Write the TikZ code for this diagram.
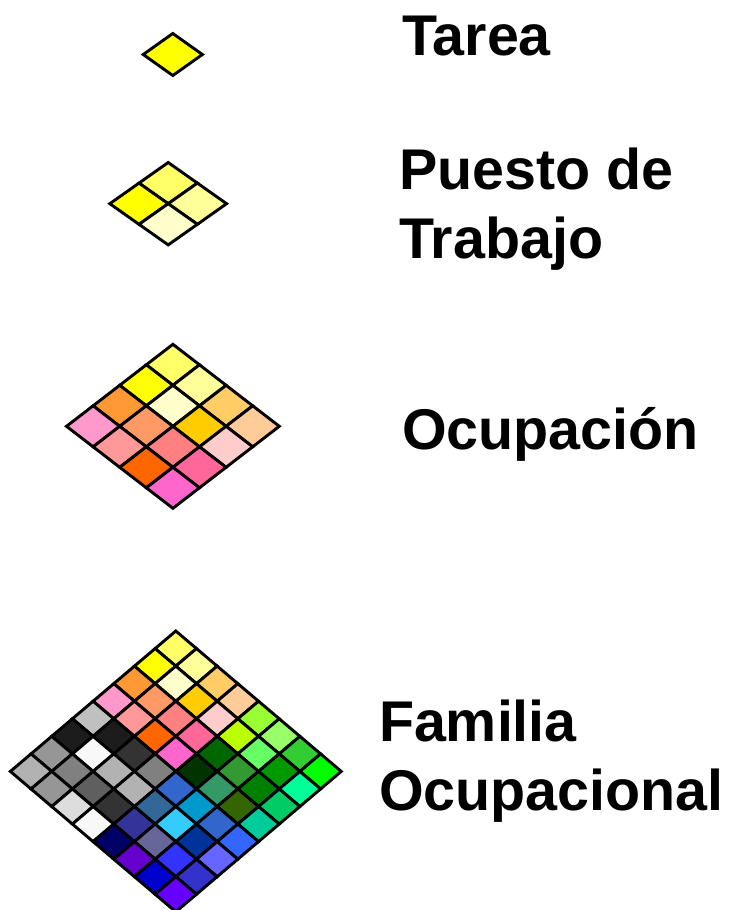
\documentclass[tikz,border=0pt]{standalone}
\usepackage{fontspec}
\setmainfont{Liberation Sans}
\tikzset{
  cellbox/.style={draw=black,line width=2.9pt,line join=miter,miter limit=3},
  lab/.style={anchor=base west,inner sep=0pt,outer sep=0pt,font=\bfseries\fontsize{57.4}{60}\selectfont,text=black}
}
\newcommand{\dgrid}[6]{%
  % top x, top y, half width, half height, n, colours
  \foreach \cc [count=\kk from 0] in {#6}{%
    \pgfmathtruncatemacro{\ii}{mod(\kk,#5)}%
    \pgfmathtruncatemacro{\jj}{int(\kk/#5)}%
    \definecolor{cellc}{HTML}{\cc}%
    \path[cellbox,fill=cellc]
      ({#1+(\ii-\jj)*#3},{#2+(\ii+\jj)*#4}) --
      ({#1+(\ii-\jj+1)*#3},{#2+(\ii+\jj+1)*#4}) --
      ({#1+(\ii-\jj)*#3},{#2+(\ii+\jj+2)*#4}) --
      ({#1+(\ii-\jj-1)*#3},{#2+(\ii+\jj+1)*#4}) -- cycle;
  }%
}
\begin{document}
\begin{tikzpicture}[x=1pt,y=-1pt]
\useasboundingbox (0,0) rectangle (729,910);
\dgrid{172.8}{33.5}{29.6}{21}{1}{FFFF00}
\dgrid{168.2}{162.5}{29.2}{20.6}{2}{FFFF66,FFFF99,FFFF00,FFFFCC}
\dgrid{172.9}{344.3}{26.6}{20.5}{4}{
FFFF66,FFFF99,FFCC66,FFCC99,
FFFF00,FFFFCC,FFCC00,FFCCCC,
FF9933,FF9966,FF8080,FF6699,
FF99CC,FF9999,FF6600,FF66CC}
\dgrid{175.8}{631}{20.68}{17.55}{8}{
FFFF66,FFFF99,FFCC66,FFCC99,99FF33,99FF66,33CC33,00FF00,
FFFF00,FFFFCC,FFCC00,FFCCCC,BBFF00,66FF66,009900,00FF99,
FF9933,FF9966,FF8080,FF6699,006600,339933,008000,00CC66,
FF99CC,FF9999,FF6600,FF66CC,003300,339966,336600,00CC99,
C0C0C0,1C1C1C,333333,808080,3366CC,0099CC,3366CC,3366FF,
1C1C1C,F8F8F8,B2B2B2,B2B2B2,336699,33CCFF,003399,6666FF,
969696,808080,5F5F5F,333333,333399,666699,3333FF,3333CC,
B2B2B2,969696,DDDDDD,F8F8F8,000066,6600CC,0000CC,6600FF}
\node[lab] (t1) at (402,55) {Tarea};
\node[lab] (t2) at (399,189) {Puesto de};
\node[lab] (t3) at (399,258) {Trabajo};
\node[lab] (t4) at (402,449) {Ocupación};
\node[lab] (t5) at (379,741) {Familia};
\node[lab] (t6) at (379,810) {Ocupacional};
\end{tikzpicture}
\end{document}
